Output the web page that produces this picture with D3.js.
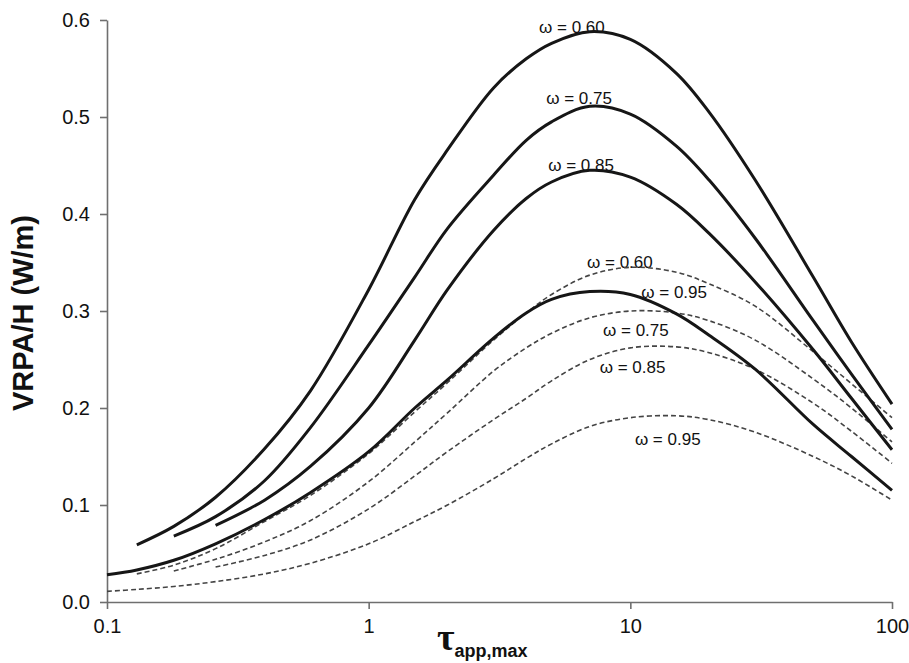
<!DOCTYPE html>
<html>
<head>
<meta charset="utf-8">
<script src="https://d3js.org/d3.v7.min.js"></script>
<style>
  body { margin: 0; padding: 0; background: #fff; }
  #chart { width: 909px; height: 663px; }
  text { font-family: Arial, "Liberation Sans", sans-serif; fill: #111; }
</style>
</head>
<body>
<div id="chart"></div>
<script>
// tau_app,max sample points
const tau = [0.1, 0.13, 0.18, 0.26, 0.4, 0.6, 1, 1.5, 2, 3, 4, 5, 7, 10, 15, 20, 30, 50, 70, 100];

// solid curves (VRPA/H)
const solid060 = [null, 0.059, 0.078, 0.108, 0.158, 0.218, 0.322, 0.415, 0.466, 0.53, 0.56, 0.576, 0.588, 0.58, 0.545, 0.505, 0.435, 0.335, 0.268, 0.204];
const solid075 = [null, null, 0.068, 0.088, 0.125, 0.18, 0.265, 0.335, 0.385, 0.44, 0.476, 0.495, 0.511, 0.503, 0.47, 0.435, 0.375, 0.29, 0.235, 0.178];
const solid085 = [null, null, null, 0.079, 0.105, 0.14, 0.2, 0.27, 0.322, 0.383, 0.416, 0.433, 0.445, 0.438, 0.41, 0.38, 0.33, 0.26, 0.21, 0.157];
const solid095 = [0.028, 0.033, 0.043, 0.06, 0.085, 0.113, 0.155, 0.2, 0.229, 0.272, 0.298, 0.312, 0.32, 0.317, 0.297, 0.275, 0.24, 0.183, 0.15, 0.115];

// dashed curves
const dash060 = [null, 0.029, 0.038, 0.055, 0.083, 0.11, 0.153, 0.196, 0.226, 0.27, 0.298, 0.317, 0.337, 0.345, 0.34, 0.328, 0.305, 0.258, 0.225, 0.19];
const dash075 = [null, null, 0.032, 0.044, 0.062, 0.084, 0.124, 0.165, 0.195, 0.238, 0.262, 0.277, 0.293, 0.3, 0.298, 0.29, 0.27, 0.23, 0.2, 0.165];
const dash085 = [null, null, null, 0.036, 0.048, 0.064, 0.096, 0.13, 0.155, 0.188, 0.21, 0.228, 0.25, 0.262, 0.263, 0.257, 0.24, 0.205, 0.176, 0.143];
const dash095 = [0.011, 0.013, 0.016, 0.021, 0.029, 0.04, 0.06, 0.083, 0.1, 0.127, 0.148, 0.163, 0.181, 0.19, 0.192, 0.188, 0.175, 0.15, 0.13, 0.105];

// curve labels: text, x, y (data units)
const labelText = ["ω = 0.60", "ω = 0.75", "ω = 0.85", "ω = 0.60", "ω = 0.95", "ω = 0.75", "ω = 0.85", "ω = 0.95"];
const labelX = [5.98, 6.37, 6.48, 9.12, 14.7, 10.5, 10.2, 13.9];
const labelY = [0.587, 0.513, 0.444, 0.344, 0.313, 0.274, 0.236, 0.162];

const xTicks = [0.1, 1, 10, 100];
const yTicks = [0, 0.1, 0.2, 0.3, 0.4, 0.5, 0.6];

const W = 909, H = 663;
const svg = d3.select("#chart").append("svg")
    .attr("width", W).attr("height", H);

const x = d3.scaleLog().domain([0.1, 100]).range([107, 892]);
const y = d3.scaleLinear().domain([0, 0.6]).range([602, 20]);

// axes
const xAxis = svg.append("g")
    .attr("transform", `translate(0,${y(0)})`)
    .call(d3.axisBottom(x).tickValues(xTicks).tickFormat(d3.format("")).tickSize(7).tickSizeOuter(0));
const yAxis = svg.append("g")
    .attr("transform", `translate(${x(0.1)},0)`)
    .call(d3.axisLeft(y).tickValues(yTicks).tickFormat(d3.format(".1f")).tickSize(7).tickSizeOuter(0));

[xAxis, yAxis].forEach(g => {
    g.select(".domain").attr("stroke", "#6f6f6f").attr("stroke-width", 1.6);
    g.selectAll(".tick line").attr("stroke", "#6f6f6f").attr("stroke-width", 1.6);
    g.selectAll(".tick text").attr("font-size", 20).attr("fill", "#111")
        .style("font-family", "Arial, 'Liberation Sans', sans-serif");
});
xAxis.selectAll(".tick text").attr("dy", "1.05em");
yAxis.selectAll(".tick text").attr("x", -17);

// axis titles
svg.append("text")
    .attr("transform", `translate(33,${(y(0) + y(0.6)) / 2 + 2}) rotate(-90)`)
    .attr("text-anchor", "middle")
    .attr("font-size", 29).attr("font-weight", "bold")
    .text("VRPA/H (W/m)");

const xt = svg.append("text")
    .attr("x", 437).attr("y", 650)
    .attr("font-weight", "bold");
xt.append("tspan")
    .style("font-family", "'Liberation Serif', 'DejaVu Serif', serif")
    .attr("font-size", 38).text("τ");
xt.append("tspan")
    .attr("font-size", 18).attr("dy", 7).text("app,max");

// labels under the lines
svg.append("g").selectAll("text")
    .data(labelText)
    .enter().append("text")
    .attr("x", (d, i) => x(labelX[i]))
    .attr("y", (d, i) => y(labelY[i]))
    .attr("text-anchor", "middle")
    .attr("font-size", 17)
    .text(d => d);

const line = d3.line()
    .defined(d => d[1] !== null)
    .x(d => x(d[0]))
    .y(d => y(d[1]))
    .curve(d3.curveCatmullRom.alpha(0.5));

const pts = vals => tau.map((t, i) => [t, vals[i]]).filter(d => d[1] !== null);

[dash060, dash075, dash085, dash095].forEach(s => {
    svg.append("path")
        .attr("d", line(pts(s)))
        .attr("fill", "none")
        .attr("stroke", "#444")
        .attr("stroke-width", 1.6)
        .attr("stroke-dasharray", "5,3");
});

[solid060, solid075, solid085, solid095].forEach(s => {
    svg.append("path")
        .attr("d", line(pts(s)))
        .attr("fill", "none")
        .attr("stroke", "#161616")
        .attr("stroke-width", 3);
});
</script>
</body>
</html>
